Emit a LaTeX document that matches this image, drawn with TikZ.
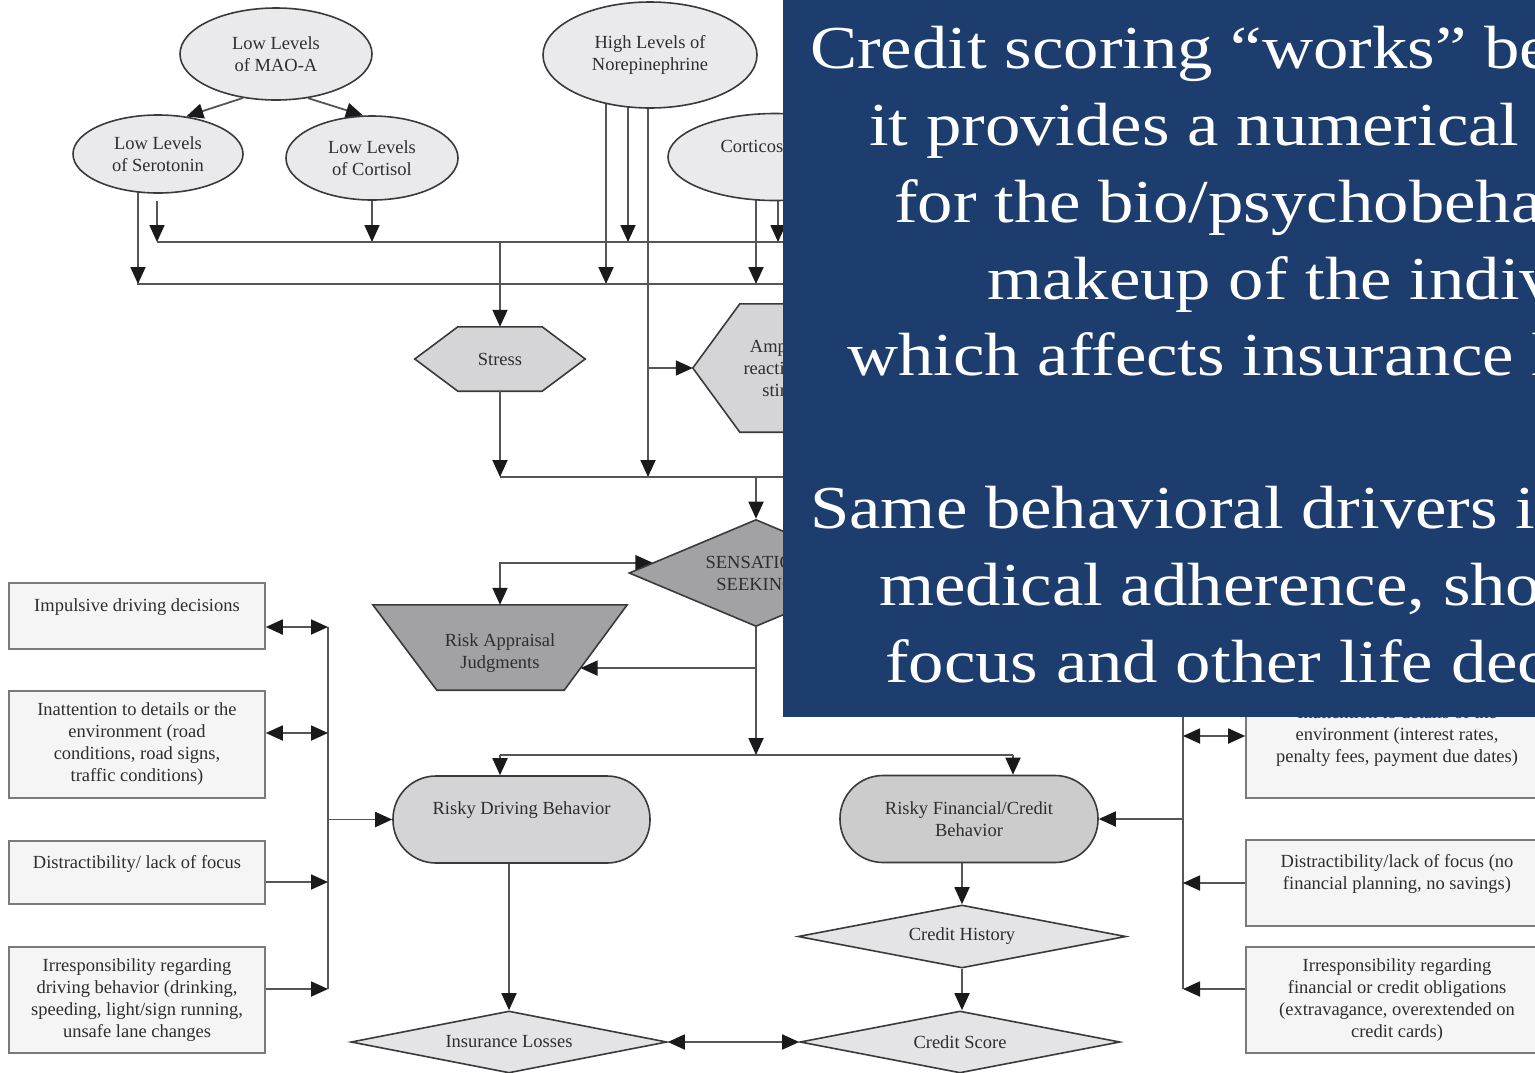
\documentclass[tikz,border=0pt]{standalone}
\usepackage{fontspec}
\setmainfont{Liberation Serif}
\newfontfamily\slidefont[FakeStretch=1.16]{Liberation Serif}
\usetikzlibrary{arrows.meta,shapes.geometric,calc}

\definecolor{slideblue}{RGB}{29,61,110}
\definecolor{txt}{RGB}{46,46,46}
\definecolor{linegray}{RGB}{85,85,85}
\definecolor{tipblack}{RGB}{26,26,28}
\definecolor{edgegray}{RGB}{58,58,60}
\definecolor{ovalfill}{RGB}{234,234,236}
\definecolor{hexfill}{RGB}{213,213,215}
\definecolor{darkfill}{RGB}{162,162,165}
\definecolor{pillfill}{RGB}{212,212,214}
\definecolor{diafill}{RGB}{228,228,230}
\definecolor{boxfill}{RGB}{245,245,245}
\definecolor{boxedge}{RGB}{122,122,122}

\pgfdeclarelayer{back}
\pgfsetlayers{back,main}

\tikzset{
  every node/.style={font=\fontsize{18.5}{22}\selectfont, text=txt},
  oval/.style={ellipse, draw=edgegray, line width=1.6pt, fill=ovalfill,
    inner sep=0pt, align=center},
  label box/.style={rectangle, inner sep=0pt, align=center},
  shape line/.style={draw=edgegray, line width=1.6pt},
  conn/.style={draw=linegray, line width=1.8pt},
  arr/.style={conn, -{Triangle[length=17pt,width=15pt,color=tipblack]}},
  darr/.style={conn, {Triangle[length=17pt,width=15pt,color=tipblack]}-{Triangle[length=17pt,width=15pt,color=tipblack]}},
  gem/.style={diamond, aspect=5, draw=edgegray, line width=1.6pt, fill=diafill,
    inner sep=0pt, align=center},
  pill/.style={rectangle, rounded corners=43pt, draw=edgegray, line width=1.6pt,
    inner sep=0pt, align=center, minimum height=87pt},
  sidebox/.style={rectangle, draw=boxedge, line width=1.6pt, fill=boxfill,
    inner sep=0pt, align=center},
  slidetext/.style={font=\slidefont\fontsize{61}{77}\selectfont, text=white,
    inner sep=0pt, anchor=base west}
}

\begin{document}
\begin{tikzpicture}[x=1pt, y=-1pt]
\useasboundingbox (0,0) rectangle (1535,1072);

% ---------- hormone ellipses ----------
\node[oval, minimum width=192pt, minimum height=92pt] (mao) at (276,54) {Low Levels\\of MAO-A};
\node[oval, minimum width=170pt, minimum height=78pt] (sero) at (158,154) {Low Levels\\of Serotonin};
\node[oval, minimum width=172pt, minimum height=84pt] (cort) at (372,158) {Low Levels\\of Cortisol};
\node[oval, minimum width=214pt, minimum height=106pt] (nore) at (650,55) {High Levels of\\Norepinephrine};
\node[oval, minimum width=214pt, minimum height=87pt] (corti) at (775,157) {Corticosterone\\\mbox{}};

% ---------- intermediate states ----------
\node[label box, minimum width=170pt, minimum height=64pt] (stress) at (500,359) {Stress};
\node[label box, minimum width=190pt, minimum height=128pt] (ampl) at (788,368) {Amplified\\reactivity to\\stimuli};
\node[diamond, aspect=2.4, draw=edgegray, line width=1.6pt, fill=darkfill, inner sep=0pt,
      align=center, minimum width=254pt, minimum height=107pt] (sens) at (756,573) {SENSATION\\SEEKING};
% the label sits a little below the middle of the trapezium
\node[label box, minimum width=254pt, minimum height=85pt] (risk) at (500,653) {Risk Appraisal\\Judgments};

% ---------- behaviours and outcomes ----------
\node[pill, fill=pillfill, minimum width=257pt] (drive) at (521.5,819.5) {Risky Driving Behavior\\\mbox{}};
\node[pill, fill=pillfill!96!black, minimum width=258pt] (fin) at (969,819) {Risky Financial/Credit\\Behavior};
\node[gem, minimum width=316pt, minimum height=62pt] (ins) at (509,1042) {Insurance Losses};
\node[gem, minimum width=328pt, minimum height=63pt] (hist) at (962,936.5) {Credit History};
\node[gem, minimum width=320pt, minimum height=62pt] (score) at (960,1042) {Credit Score};

% ---------- driving traits ----------
\node[sidebox, minimum width=256pt, minimum height=66pt] (imp) at (137,616) {Impulsive driving decisions\\\mbox{}};
\node[sidebox, minimum width=256pt, minimum height=107pt] (inatt) at (137,744.5) {Inattention to details or the\\environment (road\\conditions, road signs,\\traffic conditions)};
\node[sidebox, minimum width=256pt, minimum height=63pt] (dist) at (137,872.5) {Distractibility/ lack of focus\\\mbox{}};
\node[sidebox, minimum width=256pt, minimum height=106pt] (irr) at (137,1000) {Irresponsibility regarding\\driving behavior (drinking,\\speeding, light/sign running,\\unsafe lane changes};

% ---------- financial traits ----------
\node[sidebox, minimum width=302pt, minimum height=107pt] (finatt) at (1397,744.5) {Inattention to details of the\\environment (interest rates,\\penalty fees, payment due dates)\\\mbox{}};
\node[sidebox, minimum width=302pt, minimum height=86pt] (fdist) at (1397,883) {Distractibility/lack of focus (no\\financial planning, no savings)\\\mbox{}};
\node[sidebox, minimum width=302pt, minimum height=106pt] (firr) at (1397,1000) {Irresponsibility regarding\\financial or credit obligations\\(extravagance, overextended on\\credit cards)};

% ---------- trapezium corners ----------
\coordinate (rnw) at ([yshift=5.5pt]risk.north west);
\coordinate (rne) at ([yshift=5.5pt]risk.north east);
\coordinate (rse) at ([shift={(-63pt,5.5pt)}]risk.south east);
\coordinate (rsw) at ([shift={(64pt,5.5pt)}]risk.south west);
\coordinate (rtop) at ([yshift=5.5pt]risk.north);

% ---------- bus junctions ----------
\coordinate (b1w) at (157,242);  \coordinate (b1e) at (800,242);
\coordinate (b2w) at (137,284);  \coordinate (b2e) at (800,284);
\coordinate (b3w) at (500,477);  \coordinate (b3e) at (800,477);
\coordinate (b4w) at (500,755);  \coordinate (b4e) at (1013,755);
\coordinate (lbT) at (328,627);  \coordinate (lbB) at (328,989);
\coordinate (rbT) at (1183,690); \coordinate (rbB) at (1183,989);
\coordinate (riskin) at ($(rne)!0.741!(rse)$);
\coordinate (sensin) at ($(sens.west)!0.19!(sens.north)$);

\begin{pgfonlayer}{back}
  % polygon outlines for the hexagons and the trapezium
  \path[shape line, fill=hexfill] (stress.west) -- ([xshift=43pt]stress.north west)
    -- ([xshift=-43pt]stress.north east) -- (stress.east)
    -- ([xshift=-43pt]stress.south east) -- ([xshift=43pt]stress.south west) -- cycle;
  \path[shape line, fill=hexfill] (ampl.west) -- ([xshift=47pt]ampl.north west)
    -- ([xshift=-47pt]ampl.north east) -- (ampl.east)
    -- ([xshift=-47pt]ampl.south east) -- ([xshift=47pt]ampl.south west) -- cycle;
  \path[shape line, fill=darkfill] (rnw) -- (rne) -- (rse) -- (rsw) -- cycle;

  % hormone links
  \draw[arr] (mao.-127.7) -- (sero.53.9);
  \draw[arr] (mao.-54.8) -- (cort.102);
  \draw[arr] ([xshift=-20pt]sero.center) -- ([xshift=-20pt]sero.center |- b2w);
  \draw[arr] ($(b1w |- sero.south)+(0,7)$) -- (b1w);
  \draw[arr] (cort.center) -- (cort.center |- b1w);
  \draw[arr] ([xshift=-44pt]nore.center) -- ([xshift=-44pt]nore.center |- b2w);
  \draw[arr] ([xshift=-22pt]nore.center) -- ([xshift=-22pt]nore.center |- b1w);
  \draw[arr] ([xshift=-2pt]nore.center) -- ([xshift=-2pt]nore.center |- b3w);
  \draw[arr] ([xshift=-2pt]nore.center |- ampl.west) -- (ampl.west);
  \draw[arr] ([xshift=-19pt]corti.center) -- ([xshift=-19pt]corti.center |- b2w);
  \draw[arr] ([xshift=3pt]corti.center) -- ([xshift=3pt]corti.center |- b1w);

  % buses
  \draw[conn] (b1w) -- (b1e);
  \draw[conn] (b2w) -- (b2e);
  \draw[conn] (b3w) -- (b3e);
  \draw[conn] (b4w) -- (b4e);

  % central chain
  \draw[arr] (stress.north |- b1w) -- (stress.north);
  \draw[arr] (stress.south) -- (stress.south |- b3w);
  \draw[arr] (sens.north |- b3w) -- (sens.north);
  \draw[darr] (sensin) -| (rtop);
  \draw[arr] (sens.south) -- (sens.south |- b4w);
  \draw[arr] (sens.south |- riskin) -- (riskin);
  \draw[arr] (b4w) -- (b4w |- drive.north);
  \draw[arr] (b4e) -- (b4e |- fin.north);
  \draw[arr] (drive.south -| ins.north) -- (ins.north);
  \draw[darr] (ins.east) -- (score.west);
  \draw[arr] (fin.south -| hist.north) -- (hist.north);
  \draw[arr] (hist.south) -- (hist.south |- score.north);

  % driving traits feed
  \draw[conn] (lbT) -- (lbB);
  \draw[darr] ([yshift=-11pt]imp.east) -- (lbT);
  \draw[darr] ([yshift=11.5pt]inatt.east) -- ([yshift=11.5pt]inatt.east -| lbT);
  \draw[arr] ([yshift=-9.5pt]dist.east) -- ([yshift=-9.5pt]dist.east -| lbT);
  \draw[arr] ([yshift=11pt]irr.east) -- (lbB);
  \draw[arr] (lbT |- drive.west) -- (drive.west);

  % financial traits feed
  \draw[conn] (rbT) -- (rbB);
  \draw[darr] ([yshift=8.5pt]finatt.west) -- ([yshift=8.5pt]finatt.west -| rbT);
  \draw[arr] (fdist.west) -- (fdist.west -| rbT);
  \draw[arr] ([yshift=11pt]firr.west) -- (rbB);
  \draw[arr] (rbT |- fin.east) -- (fin.east);
\end{pgfonlayer}

% ---------- overlay panel ----------
\fill[slideblue] (783,0) rectangle (1560,717);
\node[slidetext] (t1) at (810,68)  {Credit scoring “works” because};
\node[slidetext] (t2) at (869,145) {it provides a numerical proxy};
\node[slidetext] (t3) at (894,222) {for the bio/psychobehavioral};
\node[slidetext] (t4) at (987,299) {makeup of the individual};
\node[slidetext] (t5) at (847,375) {which affects insurance losses.};
\node[slidetext] (t6) at (810,528) {Same behavioral drivers in};
\node[slidetext] (t7) at (879,605) {medical adherence, shopping,};
\node[slidetext] (t8) at (885,682) {focus and other life decisions.};
\end{tikzpicture}
\end{document}
